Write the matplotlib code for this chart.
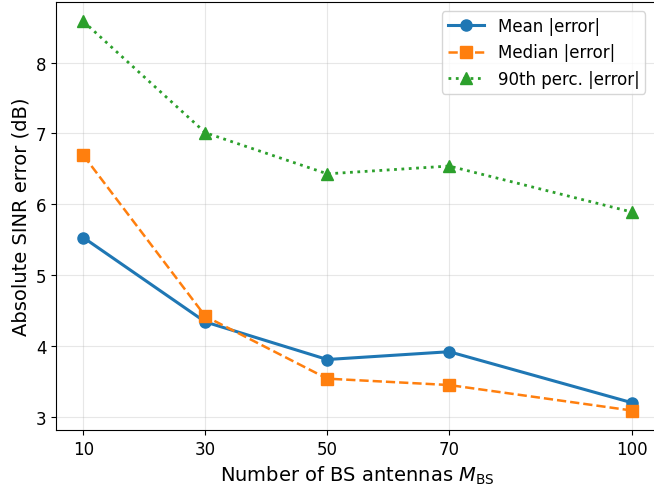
import matplotlib
matplotlib.use("Agg")
import matplotlib.pyplot as plt

# Number of base-station antennas
antennas = [10, 30, 50, 70, 100]

# Absolute SINR error statistics (dB)
mean_err = [5.53, 4.34, 3.81, 3.92, 3.20]
median_err = [6.69, 4.42, 3.54, 3.45, 3.09]
p90_err = [8.58, 7.01, 6.43, 6.54, 5.89]

fig = plt.figure(figsize=(6.54, 4.89), dpi=100)
ax = fig.add_axes([56 / 654, 1 - 431 / 489, (659.5 - 56) / 654, (431 - 3) / 489])

ax.plot(antennas, mean_err, "-o", color="#1f77b4", lw=2.2, ms=8, label="Mean |error|")
ax.plot(antennas, median_err, "--s", color="#ff7f0e", lw=1.8, ms=8, label="Median |error|")
ax.plot(antennas, p90_err, ":^", color="#2ca02c", lw=2.0, ms=8, label="90th perc. |error|")

ax.set_xticks(antennas)
ax.set_yticks([3, 4, 5, 6, 7, 8])
ax.tick_params(labelsize=12)
ax.grid(True, alpha=0.3)

ax.set_xlabel(r"Number of BS antennas $M_{\mathrm{BS}}$", fontsize=14)
ax.set_ylabel("Absolute SINR error (dB)", fontsize=14)
ax.legend(fontsize=12, loc="upper right", bbox_to_anchor=(0.99, 0.998),
          handlelength=2.2, borderpad=0.35)

fig.savefig("out.png", dpi=100)
